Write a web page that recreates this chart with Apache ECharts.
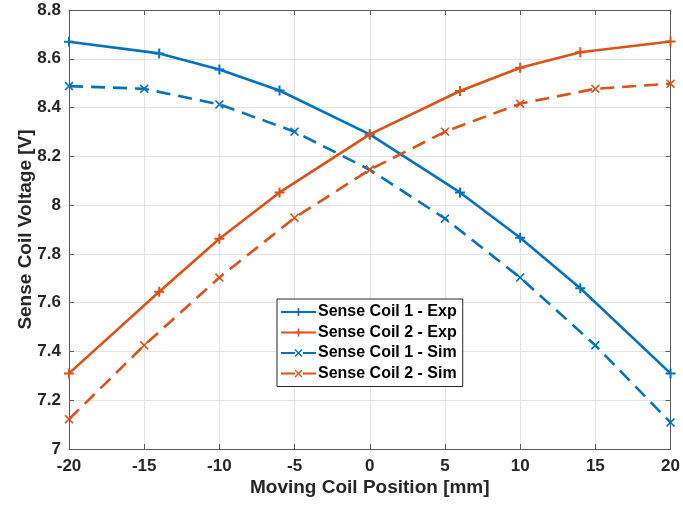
<!DOCTYPE html>
<html>
<head>
<meta charset="utf-8">
<script src="https://cdn.jsdelivr.net/npm/echarts@6/dist/echarts.min.js"></script>
<style>
html,body{margin:0;padding:0;background:#fff;}
#chart{width:683px;height:506px;}
</style>
</head>
<body>
<div id="chart"></div>
<script>
// Data
var positionsExp = [-20, -14, -10, -6, 0, 6, 10, 14, 20];
var coil1Exp = [8.67, 8.622, 8.556, 8.47, 8.29, 8.052, 7.866, 7.659, 7.31];
var coil2Exp = [7.31, 7.645, 7.862, 8.052, 8.29, 8.468, 8.563, 8.627, 8.671];
var positionsSim = [-20, -15, -10, -5, 0, 5, 10, 15, 20];
var coil1Sim = [8.488, 8.477, 8.413, 8.301, 8.145, 7.945, 7.703, 7.425, 7.109];
var coil2Sim = [7.122, 7.425, 7.703, 7.948, 8.145, 8.301, 8.416, 8.477, 8.498];
var seriesNames = ['Sense Coil 1 - Exp', 'Sense Coil 2 - Exp', 'Sense Coil 1 - Sim', 'Sense Coil 2 - Sim'];
var xTickLabels = ['-20', '-15', '-10', '-5', '0', '5', '10', '15', '20'];
var yTickLabels = ['7', '7.2', '7.4', '7.6', '7.8', '8', '8.2', '8.4', '8.6', '8.8'];

var BLUE = '#0072BD', ORANGE = '#D95319';
var FONT = "'Liberation Sans', Arial, Helvetica, sans-serif";
var PLUS = 'path://M-1.2,-6H1.2V-1.2H6V1.2H1.2V6H-1.2V1.2H-6V-1.2H-1.2Z';
var CROSS = 'path://M-4.5,-6L0,-1.5L4.5,-6L6,-4.5L1.5,0L6,4.5L4.5,6L0,1.5L-4.5,6L-6,4.5L-1.5,0L-6,-4.5Z';

function pairs(xs, ys) { return xs.map(function (x, i) { return [x, ys[i]]; }); }

function mkSeries(name, xs, ys, color, dashed) {
  return {
    name: name, type: 'line', xAxisIndex: 0, yAxisIndex: 0,
    data: pairs(xs, ys),
    symbol: dashed ? CROSS : PLUS,
    symbolSize: dashed ? 9 : 10,
    showAllSymbol: true,
    itemStyle: { color: color },
    lineStyle: { color: color, width: 2.6, type: dashed ? [14, 8] : 'solid' },
    emphasis: { disabled: true },
    z: 3
  };
}

var axisLineStyle = { color: '#5a5a5a', width: 1 };
var chart = echarts.init(document.getElementById('chart'), null, { renderer: 'canvas' });
chart.setOption({
  animation: false,
  backgroundColor: '#fff',
  grid: { left: 69, right: 11, top: 10, bottom: 57, containLabel: false },
  xAxis: [{
    type: 'value', min: -20, max: 20, interval: 5, position: 'bottom',
    name: 'Moving Coil Position [mm]', nameLocation: 'middle', nameGap: 29, nameMoveOverlap: false,
    nameTextStyle: { fontFamily: FONT, fontSize: 19, fontWeight: 'bold', color: '#262626' },
    axisLine: { show: true, lineStyle: axisLineStyle },
    axisTick: { show: true, inside: true, length: 5, lineStyle: axisLineStyle },
    axisLabel: { fontFamily: FONT, fontSize: 17, fontWeight: 'bold', color: '#262626', margin: 9,
      formatter: function (v) { return xTickLabels[Math.round((v + 20) / 5)]; } },
    splitLine: { show: true, lineStyle: { color: '#e3e3e3', width: 1 } }
  }, {
    type: 'value', min: -20, max: 20, interval: 5, position: 'top',
    axisLine: { show: true, onZero: false, lineStyle: axisLineStyle },
    axisTick: { show: true, inside: true, length: 5, lineStyle: axisLineStyle },
    axisLabel: { show: false }, splitLine: { show: false }
  }],
  yAxis: [{
    type: 'value', min: 7, max: 8.8, interval: 0.2, position: 'left',
    name: 'Sense Coil Voltage [V]', nameLocation: 'middle', nameGap: 34, nameRotate: 90, nameMoveOverlap: false,
    nameTextStyle: { fontFamily: FONT, fontSize: 19, fontWeight: 'bold', color: '#262626' },
    axisLine: { show: true, onZero: false, lineStyle: axisLineStyle },
    axisTick: { show: true, inside: true, length: 5, lineStyle: axisLineStyle },
    axisLabel: { fontFamily: FONT, fontSize: 17, fontWeight: 'bold', color: '#262626', margin: 8,
      formatter: function (v) { return yTickLabels[Math.round((v - 7) / 0.2)]; } },
    splitLine: { show: true, lineStyle: { color: '#e3e3e3', width: 1 } }
  }, {
    type: 'value', min: 7, max: 8.8, interval: 0.2, position: 'right',
    axisLine: { show: true, onZero: false, lineStyle: axisLineStyle },
    axisTick: { show: true, inside: true, length: 5, lineStyle: axisLineStyle },
    axisLabel: { show: false }, splitLine: { show: false }
  }],
  legend: {
    orient: 'vertical', left: 277, top: 299,
    data: seriesNames,
    backgroundColor: '#fff', borderColor: '#262626', borderWidth: 1,
    padding: [5, 6, 5, 3], itemGap: 4.5, itemWidth: 35, itemHeight: 10,
    textStyle: { fontFamily: FONT, fontSize: 16, fontWeight: 'bold', color: '#000', padding: [0, 0, 0, -3] },
    selectedMode: false
  },
  series: [
    mkSeries(seriesNames[0], positionsExp, coil1Exp, BLUE, false),
    mkSeries(seriesNames[1], positionsExp, coil2Exp, ORANGE, false),
    mkSeries(seriesNames[2], positionsSim, coil1Sim, BLUE, true),
    mkSeries(seriesNames[3], positionsSim, coil2Sim, ORANGE, true)
  ]
});
</script>
</body>
</html>
